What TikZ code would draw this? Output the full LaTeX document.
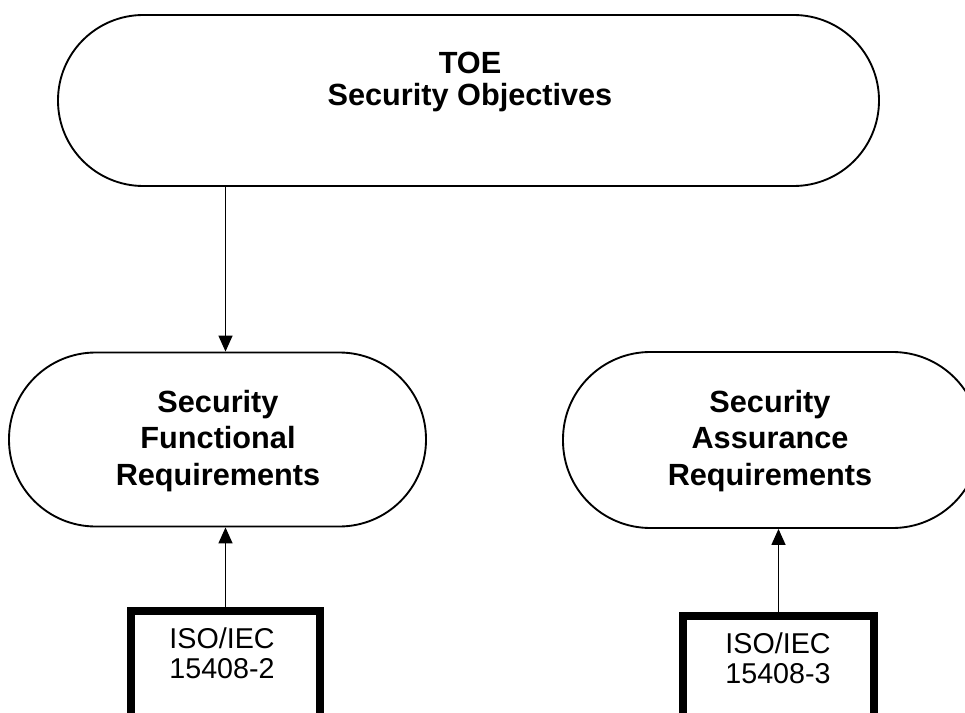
\documentclass[tikz,border=0pt]{standalone}
\usepackage{fontspec}
\setmainfont{Liberation Sans}
\usetikzlibrary{arrows.meta}
\begin{document}
\begin{tikzpicture}[x=0.75pt,y=-0.75pt,
  stadium/.style={draw, line width=1.4pt, rectangle, rounded corners=#1, inner sep=0pt},
  bigtext/.style={align=center, inner sep=0pt, font=\bfseries\fontsize{23}{27.4}\selectfont},
  toptext/.style={align=center, inner sep=0pt, font=\bfseries\fontsize{23}{24}\selectfont},
  isobox/.style={draw, line width=5.6pt, rectangle, inner sep=0pt},
  isotext/.style={align=center, inner sep=0pt, font=\fontsize{21.5}{22.5}\selectfont},
  arr/.style={line width=1.1pt, -{Triangle[width=10.5pt,length=12pt]}}]
\useasboundingbox (0,0) rectangle (965,713);
% top objective
\node[stadium=64pt, minimum width=615.75pt, minimum height=128.25pt] (top) at (468.5,100.5) {};
\node[toptext] (toptxt) at (470,82) {TOE\\Security Objectives};
% requirement stadiums
\node[stadium=65pt, minimum width=312.75pt, minimum height=130.5pt] (sfr) at (217.5,439.5) {};
\node[bigtext] (sfrtxt) at (218,441) {Security\\Functional\\Requirements};
\node[stadium=65.5pt, minimum width=312.75pt, minimum height=132pt] (sar) at (771.5,440) {};
\node[bigtext] (sartxt) at (770,441) {Security\\Assurance\\Requirements};
% ISO boxes
\node[isobox, minimum width=141.75pt, minimum height=111.75pt] (iso2) at (225.5,685.5) {};
\node[isotext] (iso2txt) at (222,653) {ISO/IEC\\15408-2};
\node[isobox, minimum width=143.25pt, minimum height=108pt] (iso3) at (778.5,688) {};
\node[isotext] (iso3txt) at (778,658) {ISO/IEC\\15408-3};
% connectors
\draw[arr] (top.south -| iso2.north) -- (sfr.north -| iso2.north);
\draw[arr] (iso2.north) -- (sfr.south -| iso2.north);
\draw[arr] (iso3.north) -- (sar.south -| iso3.north);
\end{tikzpicture}
\end{document}
